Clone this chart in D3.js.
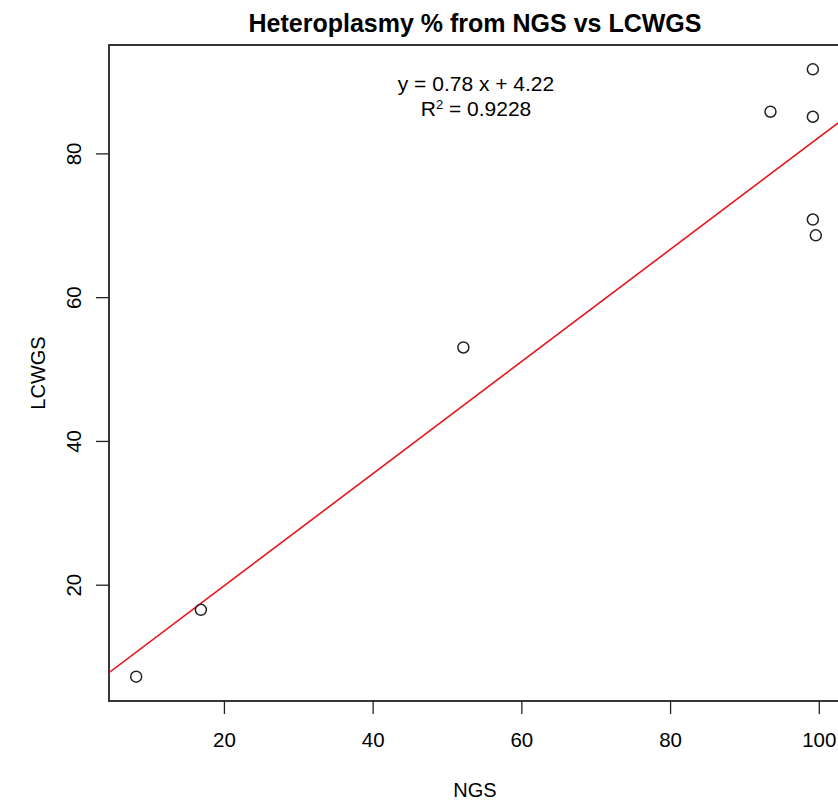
<!DOCTYPE html>
<html>
<head>
<meta charset="utf-8">
<script src="https://cdn.jsdelivr.net/npm/d3@7"></script>
<style>
  body { margin:0; background:#fff; }
  svg text { font-family: "Liberation Sans", Arial, Helvetica, sans-serif; fill:#000; }
</style>
</head>
<body>
<svg id="chart" width="838" height="802"></svg>
<script>
/* ----- data -------------------------------------------------- */
const ngs   = [8.2, 16.9, 52.2, 93.5, 99.2, 99.2, 99.2, 99.6];
const lcwgs = [7.2, 16.5, 53.0, 85.8, 91.7, 85.1, 70.8, 68.6];
const slope = 0.78, intercept = 4.22;
const xTicks = [20, 40, 60, 80, 100];
const yTicks = [20, 40, 60, 80];
const eqLine = 'y = 0.78 x + 4.22';
const r2Text = ' = 0.9228';

/* ----- setup ------------------------------------------------- */
const svg = d3.select('#chart'),
      M   = {left:109, top:45, right:843, bottom:701};

// R style: extend data range by 4% each side
const pad = (lo, hi) => { const r = hi - lo; return [lo - r*.04, hi + r*.04]; };
const x = d3.scaleLinear().domain(pad(d3.min(ngs), d3.max(ngs))).range([M.left, M.right]);
const y = d3.scaleLinear().domain(pad(d3.min(lcwgs), d3.max(lcwgs))).range([M.bottom, M.top]);

svg.append('defs').append('clipPath').attr('id','clip')
  .append('rect').attr('x',M.left).attr('y',M.top)
  .attr('width',M.right-M.left).attr('height',M.bottom-M.top);

/* ----- title ------------------------------------------------- */
svg.append('text')
  .attr('x',(M.left+M.right)/2 - 1).attr('y',32).attr('text-anchor','middle')
  .style('font-size','25px').style('font-weight','bold')
  .text('Heteroplasmy % from NGS vs LCWGS');

/* ----- axes -------------------------------------------------- */
const xa = svg.append('g').attr('transform',`translate(0,${M.bottom})`)
  .call(d3.axisBottom(x).tickValues(xTicks).tickSize(13).tickPadding(18).tickFormat(d3.format('d')));
const ya = svg.append('g').attr('transform',`translate(${M.left},0)`)
  .call(d3.axisLeft(y).tickValues(yTicks).tickSize(13).tickPadding(12).tickFormat(d3.format('d')));
[xa, ya].forEach(a => {
  a.select('.domain').remove();
  a.selectAll('line').attr('stroke','#222').attr('stroke-width',1.3);
  a.selectAll('text').style('font-size','20.5px').attr('fill','#000');
});
ya.selectAll('.tick text')
  .attr('text-anchor','middle').attr('dy',null)
  .attr('transform','translate(-36,0) rotate(-90)')
  .attr('x',0).attr('y',0).attr('dominant-baseline','central');
xa.selectAll('.tick text').attr('dy','0.71em');

/* box */
svg.append('rect')
  .attr('x',M.left).attr('y',M.top)
  .attr('width',M.right-M.left).attr('height',M.bottom-M.top)
  .attr('fill','none').attr('stroke','#222').attr('stroke-width',1.8);

/* axis labels */
svg.append('text')
  .attr('x',(M.left+M.right)/2 - 1).attr('y',797).attr('text-anchor','middle')
  .style('font-size','20px').text('NGS');
svg.append('text')
  .attr('transform',`translate(45,${(M.top+M.bottom)/2}) rotate(-90)`)
  .attr('text-anchor','middle')
  .style('font-size','20px').text('LCWGS');

/* ----- regression line -------------------------------------- */
const [x0, x1] = x.domain();
svg.append('line').attr('clip-path','url(#clip)')
  .attr('x1',x(x0)).attr('y1',y(slope*x0+intercept))
  .attr('x2',x(x1)).attr('y2',y(slope*x1+intercept))
  .attr('stroke','#e8141b').attr('stroke-width',1.6);

/* ----- points ------------------------------------------------ */
svg.append('g').selectAll('circle')
  .data(ngs.map((v,i)=>({x:v, y:lcwgs[i]})))
  .join('circle')
    .attr('cx',d=>x(d.x)).attr('cy',d=>y(d.y)).attr('r',5.5)
    .attr('fill','none').attr('stroke','#222').attr('stroke-width',1.5);

/* ----- equation --------------------------------------------- */
const cx = (M.left+M.right)/2;
svg.append('text').attr('x',cx).attr('y',91).attr('text-anchor','middle')
  .style('font-size','21px').text(eqLine);
const r2 = svg.append('text').attr('x',cx).attr('y',116).attr('text-anchor','middle')
  .style('font-size','21px');
r2.append('tspan').text('R');
r2.append('tspan').attr('dy',-7).style('font-size','13px').text('2');
r2.append('tspan').attr('dy',7).text(r2Text);
</script>
</body>
</html>
